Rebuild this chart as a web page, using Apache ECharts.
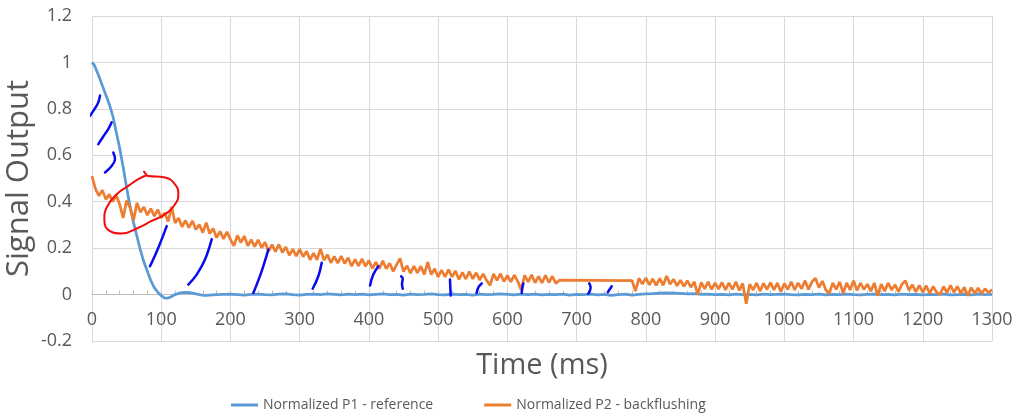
<!DOCTYPE html>
<html>
<head>
<meta charset="utf-8">
<script src="https://cdn.jsdelivr.net/npm/echarts@6/dist/echarts.min.js"></script>
<style>
html,body{margin:0;padding:0;background:#fff;}
#chart{width:1018px;height:416px;}
</style>
</head>
<body>
<div id="chart"></div>
<script>
// ---------- data ----------
const seriesNames = ['Normalized P1 - reference', 'Normalized P2 - backflushing'];
const xTicks = { min: 0, max: 1300, interval: 100 };
const yTicks = { min: -0.2, max: 1.2, interval: 0.2 };

// P1 (reference): fast decay, [time ms, value]
const p1Decay = [
  [0,1.0],[3,0.99],[6,0.97],[10,0.94],[15,0.9],[20,0.86],[25,0.82],[30,0.77],[35,0.7],[40,0.63],
  [45,0.55],[50,0.46],[55,0.38],[60,0.31],[65,0.25],[70,0.19],[75,0.14],[80,0.1],[85,0.06],[90,0.03],
  [95,0.01],[100,-0.005],[105,-0.015],[110,-0.015],[115,-0.008],[120,0.0],[125,0.005],[130,0.008],
  [135,0.009],[140,0.008],[145,0.006],[150,0.003],[155,0.0],[160,-0.003],[165,-0.003],[170,-0.002],
  [180,0.0],[190,0.001]
];
// P1 tail, from 200 ms every 10 ms
const p1TailStart = 200, p1TailStep = 10;
const p1Tail = [
  0.002,0,-0.002,0.001,0.002,0,-0.001,0.002,0.003,0,
  -0.002,0.001,0.002,0,0.003,0.001,-0.001,0.002,0,0.002,
  -0.001,0.001,0.003,0,0.001,-0.002,0.002,0,0.001,0.003,
  0,-0.001,0.002,0,0.001,-0.002,0.002,0,0.001,0.003,
  0.001,-0.001,0.002,0,0.002,-0.001,0.001,0,0.002,-0.002,
  0.001,0,0.002,-0.001,0.001,-0.003,0,0.002,-0.002,0.001,
  0.003,0.004,0.006,0.007,0.006,0.005,0.003,0.004,0.001,0.002,
  0,0.001,-0.001,0.002,0,0.001,-0.001,0.002,0,0.001,
  0.002,0,-0.001,0.001,0,0.002,-0.001,0.001,0,0.002,
  0,-0.001,0.001,0.002,0,0.001,-0.001,0.002,0,0.001,
  -0.001,0.001,0,0.002,-0.001,0,0.001,-0.001,0.002,0,
  0.001
];

// P2 (backflushing): two recorded segments, 5 ms sampling
const p2Step = 5;
const p2SegAStart = 0;
const p2SegA = [
  0.51,0.455,0.425,0.45,0.41,0.432,0.40,0.428,0.388,0.33,
  0.405,0.375,0.32,0.395,0.355,0.377,0.342,0.37,0.338,0.366,
  0.33,0.352,0.315,0.378,0.308,0.33,0.292,0.319,0.288,0.318,
  0.28,0.302,0.267,0.31,0.263,0.285,0.245,0.272,0.24,0.27,
  0.238,0.21,0.255,0.224,0.252,0.21,0.237,0.207,0.236,0.202,
  0.225,0.186,0.215,0.185,0.216,0.181,0.205,0.169,0.196,0.166,
  0.196,0.163,0.187,0.15,0.179,0.15,0.197,0.148,0.172,0.137,
  0.164,0.135,0.166,0.134,0.159,0.122,0.152,0.123,0.154,0.122,
  0.147,0.112,0.14,0.112,0.145,0.111,0.135,0.10,0.129,0.156,
  0.099,0.124,0.092,0.123,0.094,0.122,0.087,0.14,0.086,0.111,
  0.076,0.105,0.076,0.108,0.076,0.102,0.065,0.096,0.067,0.099,
  0.068,0.094,0.063,0.089,0.061,0.04,0.089,0.061,0.09,0.056,
  0.082,0.055,0.084,0.057,0.02,0.083,0.055,0.085,0.051,0.078,
  0.05,0.083,0.052,0.079,0.048,0.062
];
const p2SegBStart = 780;
const p2SegB = [
  0.06,0.015,0.07,0.045,0.072,0.042,0.068,0.04,0.07,0.04,
  0.08,0.045,0.066,0.038,0.062,0.035,0.06,0.032,0.055,0.0,
  0.052,0.025,0.055,0.022,0.05,0.024,0.052,0.02,0.05,0.022,
  0.055,0.018,0.048,-0.04,0.045,0.02,0.05,0.015,0.048,0.022,
  0.052,0.02,0.05,0.012,0.048,0.022,0.055,0.02,0.05,0.025,
  0.06,0.022,0.055,0.07,0.03,0.058,0.02,0.005,0.05,0.022,
  0.055,0.005,0.05,0.02,0.06,0.018,0.05,0.022,0.045,0.015,
  0.05,-0.005,0.045,0.015,0.05,0.02,0.042,0.012,0.045,0.06,
  0.018,0.042,0.012,0.04,0.01,0.038,0.005,0.035,0.01,0.0,
  0.035,0.008,0.04,0.01,0.035,0.005,0.032,-0.005,0.03,0.005,
  0.028,0.005,0.025,0.008,0.022
];

// Hand-drawn annotations (data coordinates)
const blueInk = [
  [[11.6,0.857],[9.1,0.828],[4.3,0.802],[-2.9,0.77]],
  [[28.4,0.742],[23.5,0.713],[16.3,0.681],[9.1,0.648]],
  [[30.8,0.612],[33.2,0.583],[28.4,0.554],[18.8,0.526]],
  [[107.9,0.295],[95.8,0.202],[83.8,0.122]],
  [[172.9,0.238],[163.2,0.151],[151.2,0.086],[139.1,0.043]],
  [[254.7,0.194],[245.1,0.101],[237.9,0.043],[233,0.007]],
  [[331.8,0.137],[326.9,0.079],[318.7,0.025]],
  [[413.6,0.122],[406.3,0.086],[401.6,0.039]],
  [[446.5,0.079],[448.8,0.068],[447.8,0.045],[448.8,0.025]],
  [[517.1,0.065],[517.6,0.03],[518.1,-0.004]],
  [[562.9,0.048],[558.5,0.033],[555.5,0.007]],
  [[623,0.048],[621.5,0.027],[620.7,0.007]],
  [[718.3,0.048],[720.3,0.029],[716.9,0.004]],
  [[750.7,0.036],[745,0.01]]
];
const redInk = [
  [75.1,0.53],[79,0.514],[81.3,0.511],[105.4,0.504],[119.9,0.475],[124.7,0.432],[119.9,0.389],
  [105.4,0.346],[86.2,0.317],[66.9,0.288],[42.9,0.263],[26,0.273],[17.8,0.324],[21.2,0.375],
  [35.7,0.432],[52.4,0.468],[66.9,0.497],[79,0.514]
];

// ---------- build ----------
const p1Data = p1Decay.concat(p1Tail.map((v, i) => [p1TailStart + i * p1TailStep, v]));
const p2Data = p2SegA.map((v, i) => [p2SegAStart + i * p2Step, v])
  .concat(p2SegB.map((v, i) => [p2SegBStart + i * p2Step, v]));

const FONT = 'Open Sans';
const TXT = '#595959';
const GRID = '#d9d9d9';
const GRID_TOP = 16, GRID_BOTTOM = 75, CHART_H = 416;
// the horizontal axis crosses the vertical one at value 0 (as in the source chart)
const plotH = CHART_H - GRID_TOP - GRID_BOTTOM;
const zeroOffset = -plotH * (0 - yTicks.min) / (yTicks.max - yTicks.min);

const series = [
  {
    name: seriesNames[0], type: 'line', data: p1Data, symbol: 'none',
    lineStyle: { color: '#5b9bd5', width: 2.75 }, itemStyle: { color: '#5b9bd5' }, z: 2
  },
  {
    name: seriesNames[1], type: 'line', data: p2Data, symbol: 'none',
    lineStyle: { color: '#ed7d31', width: 2.75 }, itemStyle: { color: '#ed7d31' }, z: 3
  }
];
blueInk.forEach((stroke, k) => series.push({
  name: 'ink' + k, type: 'line', data: stroke, symbol: 'none', smooth: 0.4, clip: false,
  silent: true, lineStyle: { color: '#0a0aee', width: 2.5, cap: 'round' }, z: 5
}));
series.push({
  name: 'circle', type: 'line', data: redInk, symbol: 'none', smooth: 0.5, clip: false,
  silent: true, lineStyle: { color: '#f20d0d', width: 2, cap: 'round' }, z: 6
});

const chart = echarts.init(document.getElementById('chart'), null, { renderer: 'canvas' });
chart.setOption({
  animation: false,
  backgroundColor: '#ffffff',
  textStyle: { fontFamily: FONT },
  grid: { left: 92, right: 26, top: GRID_TOP, bottom: GRID_BOTTOM, containLabel: false, outerBoundsMode: 'none' },
  legend: {
    data: seriesNames.map(n => ({ name: n, icon: 'rect' })),
    left: 226, top: 393, itemWidth: 27, itemHeight: 3, itemGap: 51,
    textStyle: { fontFamily: FONT, fontSize: 14, color: TXT }
  },
  xAxis: {
    type: 'value', min: xTicks.min, max: xTicks.max, interval: xTicks.interval,
    position: 'bottom', offset: zeroOffset,
    name: 'Time (ms)', nameLocation: 'middle', nameGap: 57, nameMoveOverlap: false,
    nameTextStyle: { fontFamily: FONT, fontSize: 29, color: TXT },
    axisLine: { show: true, onZero: false, lineStyle: { color: '#bfbfbf', width: 1 } },
    axisTick: { show: true, inside: true, length: 4, lineStyle: { color: '#bfbfbf' } },
    minorTick: { show: true, splitNumber: 5, length: 4, lineStyle: { color: '#bfbfbf' } },
    axisLabel: { fontFamily: FONT, fontSize: 18, color: TXT, margin: 16,
      formatter: v => String(v) },
    splitLine: { show: true, lineStyle: { color: GRID, width: 1 } }
  },
  yAxis: {
    type: 'value', min: yTicks.min, max: yTicks.max, interval: yTicks.interval,
    name: 'Signal Output', nameLocation: 'middle', nameGap: 57, nameMoveOverlap: false,
    nameTextStyle: { fontFamily: FONT, fontSize: 31, color: TXT },
    axisLine: { show: false, onZero: false },
    axisTick: { show: false },
    axisLabel: { fontFamily: FONT, fontSize: 18, color: TXT, margin: 20,
      formatter: v => String(Math.round(v * 10) / 10) },
    splitLine: { show: true, lineStyle: { color: GRID, width: 1 } }
  },
  series: series
});
</script>
</body>
</html>
